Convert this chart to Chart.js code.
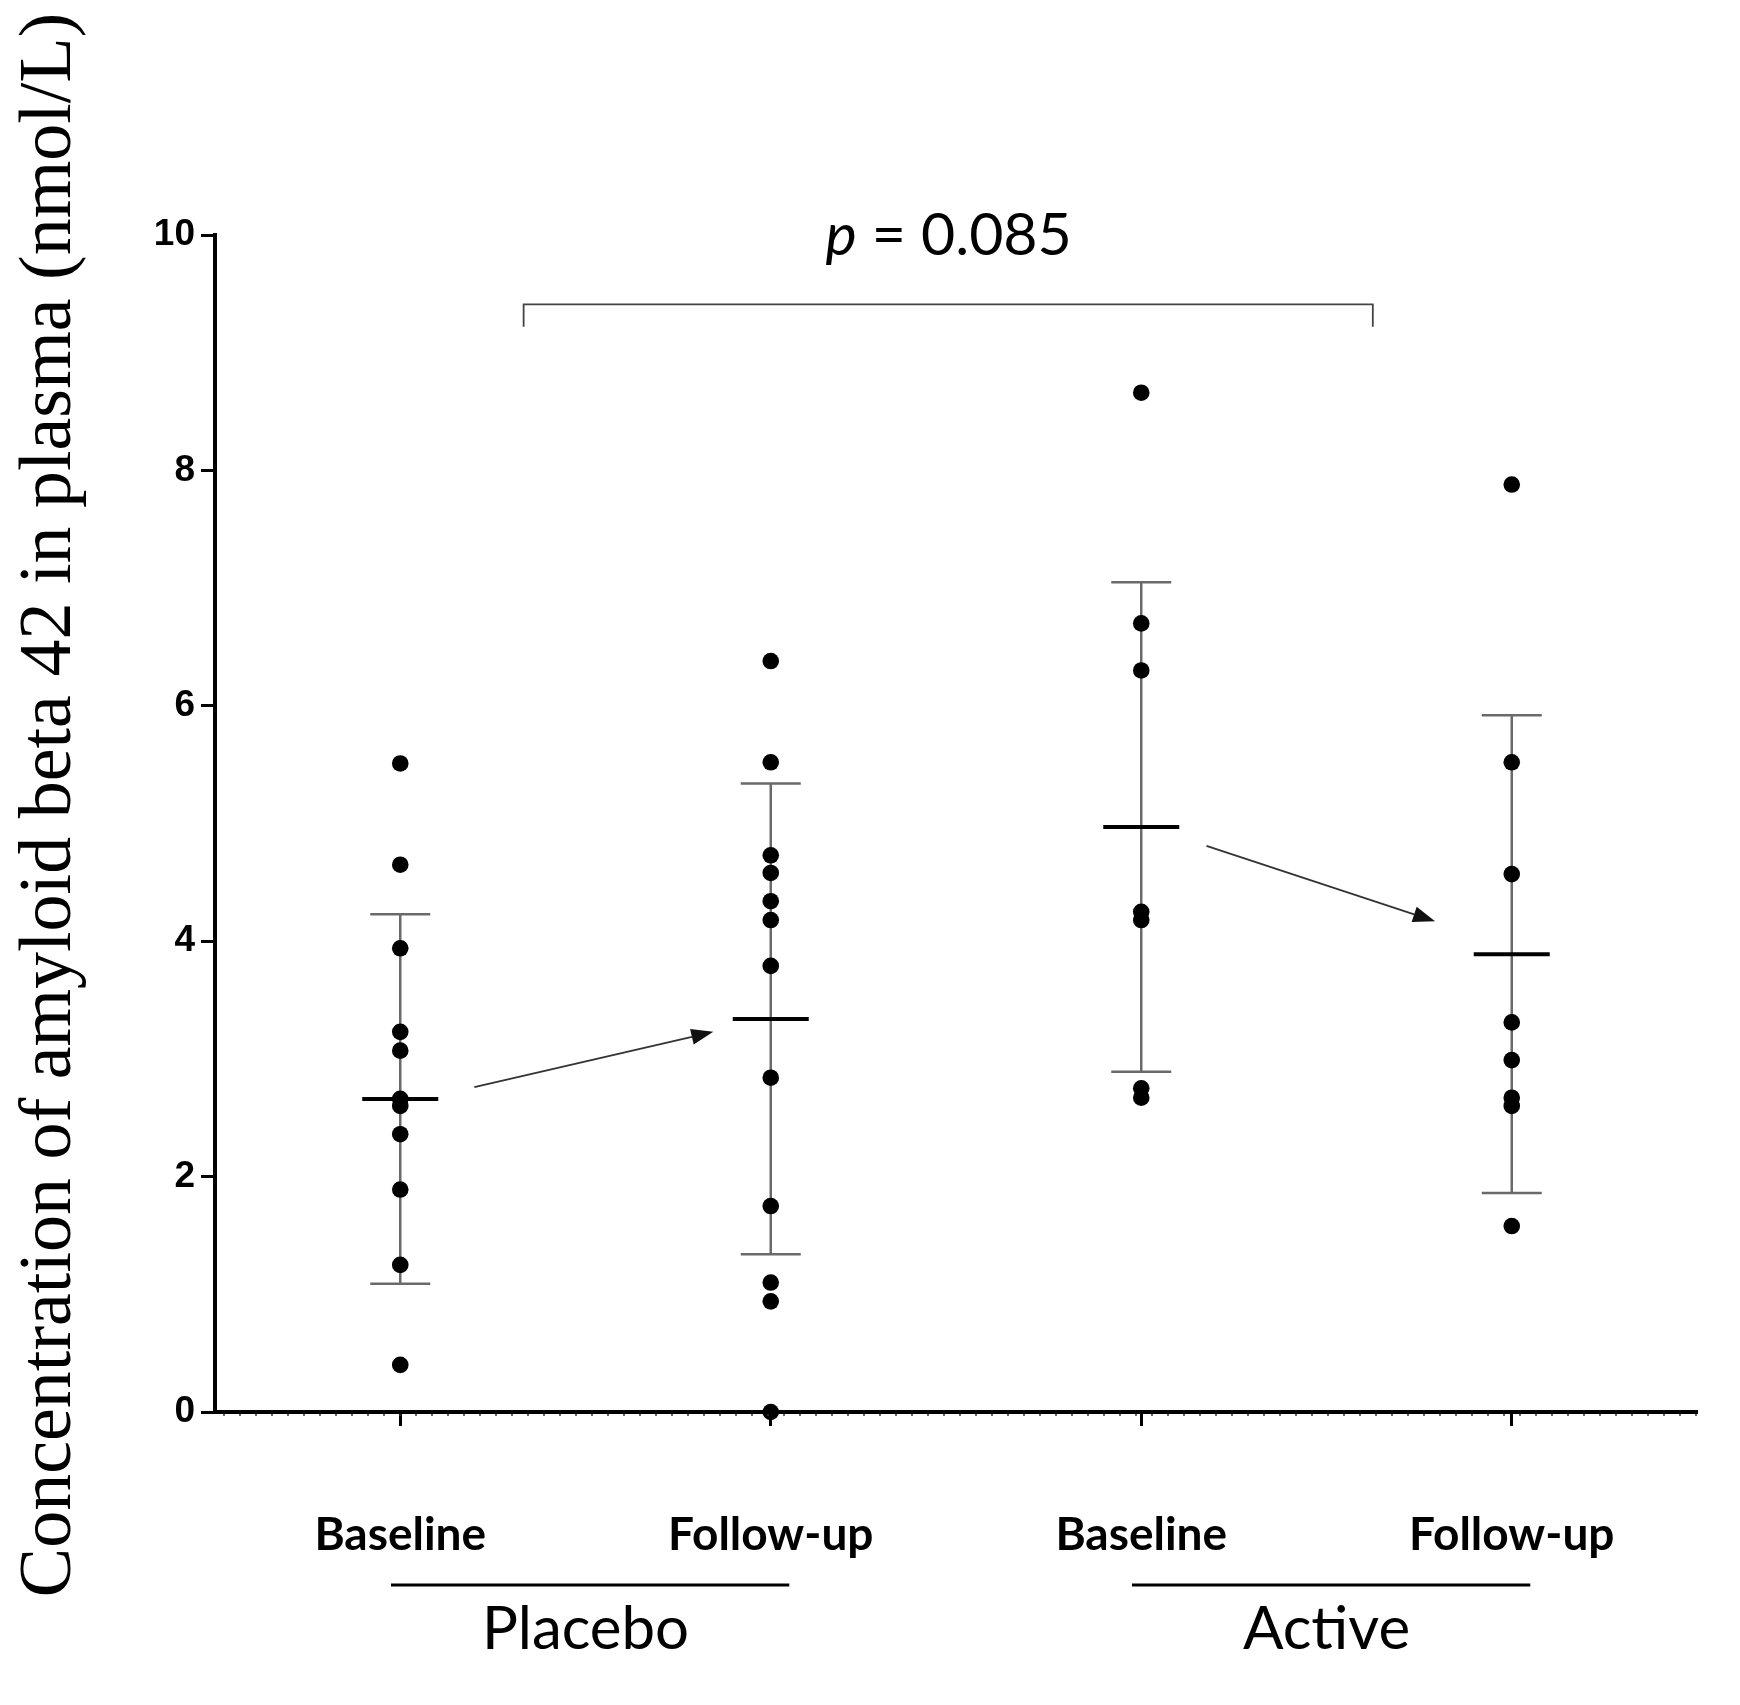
<!DOCTYPE html>
<html><head><meta charset="utf-8">
<script src="https://cdn.jsdelivr.net/npm/chart.js@4.4.1/dist/chart.umd.min.js"></script>
<style>html,body{margin:0;padding:0;background:#fff}</style>
</head><body>
<canvas id="c" width="1740" height="1705" style="width:1740px;height:1705px;display:block"></canvas>
<script>
// ---- data ----
const categories = ['Baseline', 'Follow-up', 'Baseline', 'Follow-up'];
const groups = ['Placebo', 'Active'];
const yTicks = [0, 2, 4, 6, 8, 10];
const yTitle = 'Concentration of amyloid beta 42 in plasma (nmol/L)';
const placeboBaseline = [5.51, 4.65, 3.94, 3.23, 3.07, 2.66, 2.60, 2.36, 1.89, 1.25, 0.40];
const placeboFollowup = [6.38, 5.52, 4.73, 4.58, 4.34, 4.18, 3.79, 2.84, 1.75, 1.10, 0.94, 0.00];
const activeBaseline = [8.66, 6.70, 6.30, 4.25, 4.18, 2.75, 2.67];
const activeFollowup = [7.88, 5.52, 4.57, 3.31, 2.99, 2.67, 2.60, 1.58];
const groupMeans = [2.66, 3.34, 4.97, 3.89];
const groupSDs = [1.57, 2.00, 2.08, 2.03];
const pValueText = '0.085';
const bracketX = [0.333, 2.625];
const bracketY = [9.41, 9.22];
const arrowStart = [[0.20, 2.76], [2.176, 4.81]];
const arrowEnd = [[0.845, 3.23], [2.793, 4.17]];
const pValuePos = [1.48, 10.0];

const seriesValues = [placeboBaseline, placeboFollowup, activeBaseline, activeFollowup];

const datasets = seriesValues.map((vals, i) => ({
  label: categories[i],
  data: vals.map(v => ({ x: i, y: v })),
  pointRadius: 8.3,
  pointHoverRadius: 8.3,
  backgroundColor: '#000',
  borderWidth: 0,
  showLine: false,
  clip: false
}));

const errorBarPlugin = {
  id: 'errbars',
  beforeDatasetsDraw(chart) {
    const { ctx, scales: { x, y } } = chart;
    ctx.save();
    ctx.strokeStyle = '#6a6a6a';
    ctx.lineWidth = 2.5;
    groupMeans.forEach((m, i) => {
      const px = x.getPixelForValue(i);
      const top = y.getPixelForValue(m + groupSDs[i]);
      const bot = y.getPixelForValue(m - groupSDs[i]);
      ctx.beginPath();
      ctx.moveTo(px, top); ctx.lineTo(px, bot);
      ctx.moveTo(px - 30, top); ctx.lineTo(px + 30, top);
      ctx.moveTo(px - 30, bot); ctx.lineTo(px + 30, bot);
      ctx.stroke();
    });
    ctx.restore();
  },
  afterDatasetsDraw(chart) {
    const { ctx, scales: { x, y } } = chart;
    ctx.save();
    ctx.strokeStyle = '#000';
    ctx.lineWidth = 4;
    groupMeans.forEach((m, i) => {
      const px = x.getPixelForValue(i);
      const py = y.getPixelForValue(m);
      ctx.beginPath();
      ctx.moveTo(px - 38, py); ctx.lineTo(px + 38, py);
      ctx.stroke();
    });
    ctx.restore();
  }
};

function drawArrow(ctx, x1, y1, x2, y2) {
  const ang = Math.atan2(y2 - y1, x2 - x1);
  const hl = 22, hw = 8;
  const bx = x2 - hl * Math.cos(ang), by = y2 - hl * Math.sin(ang);
  ctx.beginPath();
  ctx.moveTo(x1, y1); ctx.lineTo(bx, by);
  ctx.stroke();
  ctx.beginPath();
  ctx.moveTo(x2, y2);
  ctx.lineTo(bx + hw * Math.sin(ang), by - hw * Math.cos(ang));
  ctx.lineTo(bx - hw * Math.sin(ang), by + hw * Math.cos(ang));
  ctx.closePath();
  ctx.fill();
}

const annotPlugin = {
  id: 'annot',
  afterDraw(chart) {
    const { ctx, scales: { x, y } } = chart;
    ctx.save();
    // minor tick dots under x axis
    ctx.strokeStyle = '#333';
    ctx.lineWidth = 1.5;
    ctx.setLineDash([2, 14]);
    ctx.beginPath();
    const ax = y.getPixelForValue(0);
    ctx.moveTo(x.left + 8, ax + 3); ctx.lineTo(x.right, ax + 3);
    ctx.stroke();
    ctx.setLineDash([]);

    // y title
    ctx.save();
    ctx.translate(51, 805);
    ctx.rotate(-Math.PI / 2);
    ctx.fillStyle = '#000';
    ctx.font = '74px "Liberation Serif", "DejaVu Serif", serif';
    ctx.textAlign = 'center';
    ctx.textBaseline = 'middle';
    ctx.fillText(yTitle, 0, 0);
    ctx.restore();

    // p value
    ctx.fillStyle = '#000';
    ctx.textBaseline = 'alphabetic';
    const pFontI = 'italic 59px Lato, "Open Sans", sans-serif';
    const pFont = '59px Lato, "Open Sans", sans-serif';
    const rest = ' = ' + pValueText;
    ctx.font = pFontI; const wP = ctx.measureText('p').width;
    ctx.font = pFont; const wR = ctx.measureText(rest).width;
    const cx = x.getPixelForValue(pValuePos[0]);
    const by = y.getPixelForValue(pValuePos[1]) + 20;
    const sx = cx - (wP + wR) / 2;
    ctx.font = pFontI; ctx.textAlign = 'left'; ctx.fillText('p', sx, by);
    ctx.font = pFont; ctx.fillText(rest, sx + wP, by);

    // bracket
    ctx.strokeStyle = '#444';
    ctx.lineWidth = 1.8;
    const bx1 = x.getPixelForValue(bracketX[0]), bx2 = x.getPixelForValue(bracketX[1]);
    const byTop = y.getPixelForValue(bracketY[0]), byBot = y.getPixelForValue(bracketY[1]);
    ctx.beginPath();
    ctx.moveTo(bx1, byBot); ctx.lineTo(bx1, byTop); ctx.lineTo(bx2, byTop); ctx.lineTo(bx2, byBot);
    ctx.stroke();

    // arrows
    ctx.strokeStyle = '#333';
    ctx.fillStyle = '#111';
    ctx.lineWidth = 1.8;
    arrowStart.forEach((s, i) => {
      const e = arrowEnd[i];
      drawArrow(ctx, x.getPixelForValue(s[0]), y.getPixelForValue(s[1]),
                     x.getPixelForValue(e[0]), y.getPixelForValue(e[1]));
    });

    // group underlines and labels
    ctx.strokeStyle = '#000';
    ctx.lineWidth = 3;
    ctx.fillStyle = '#000';
    ctx.font = '60px Lato, "Open Sans", sans-serif';
    ctx.textAlign = 'center';
    ctx.textBaseline = 'middle';
    groups.forEach((g, gi) => {
      const a = x.getPixelForValue(gi * 2 - 0.025);
      const b = x.getPixelForValue(gi * 2 + 1.05);
      ctx.beginPath();
      ctx.moveTo(a, 1585); ctx.lineTo(b, 1585);
      ctx.stroke();
      ctx.fillText(g, x.getPixelForValue(gi * 2 + 0.5), 1630);
    });
    ctx.restore();
  }
};

new Chart(document.getElementById('c'), {
  type: 'scatter',
  data: { datasets },
  plugins: [errorBarPlugin, annotPlugin],
  options: {
    responsive: false,
    animation: false,
    devicePixelRatio: 1,
    layout: { padding: { top: 235, right: 43, left: 0, bottom: 0 } },
    plugins: { legend: { display: false }, tooltip: { enabled: false } },
    scales: {
      x: {
        type: 'linear',
        position: 'bottom',
        min: -0.5,
        max: 3.5,
        afterBuildTicks(axis) { axis.ticks = categories.map((c, i) => ({ value: i })); },
        afterFit(axis) { axis.height = 293; },
        ticks: {
          callback: (v) => categories[v],
          font: { family: 'Lato, "Open Sans", sans-serif', size: 46, weight: 'bold' },
          color: '#000',
          padding: 82,
          maxRotation: 0,
          autoSkip: false
        },
        grid: { drawOnChartArea: false, drawTicks: true, tickLength: 14, tickWidth: 3, tickColor: '#000' },
        border: { color: '#000', width: 4 }
      },
      y: {
        min: 0,
        max: 10,
        afterBuildTicks(axis) { axis.ticks = yTicks.map(v => ({ value: v })); },
        afterFit(axis) { axis.width = 215; },
        ticks: {
          font: { family: '"Liberation Sans", Arial, sans-serif', size: 37, weight: 'bold' },
          color: '#000',
          padding: 6
        },
        grid: { drawOnChartArea: false, drawTicks: true, tickLength: 14, tickWidth: 3, tickColor: '#000' },
        border: { color: '#000', width: 4 }
      }
    }
  }
});
</script>
</body></html>
